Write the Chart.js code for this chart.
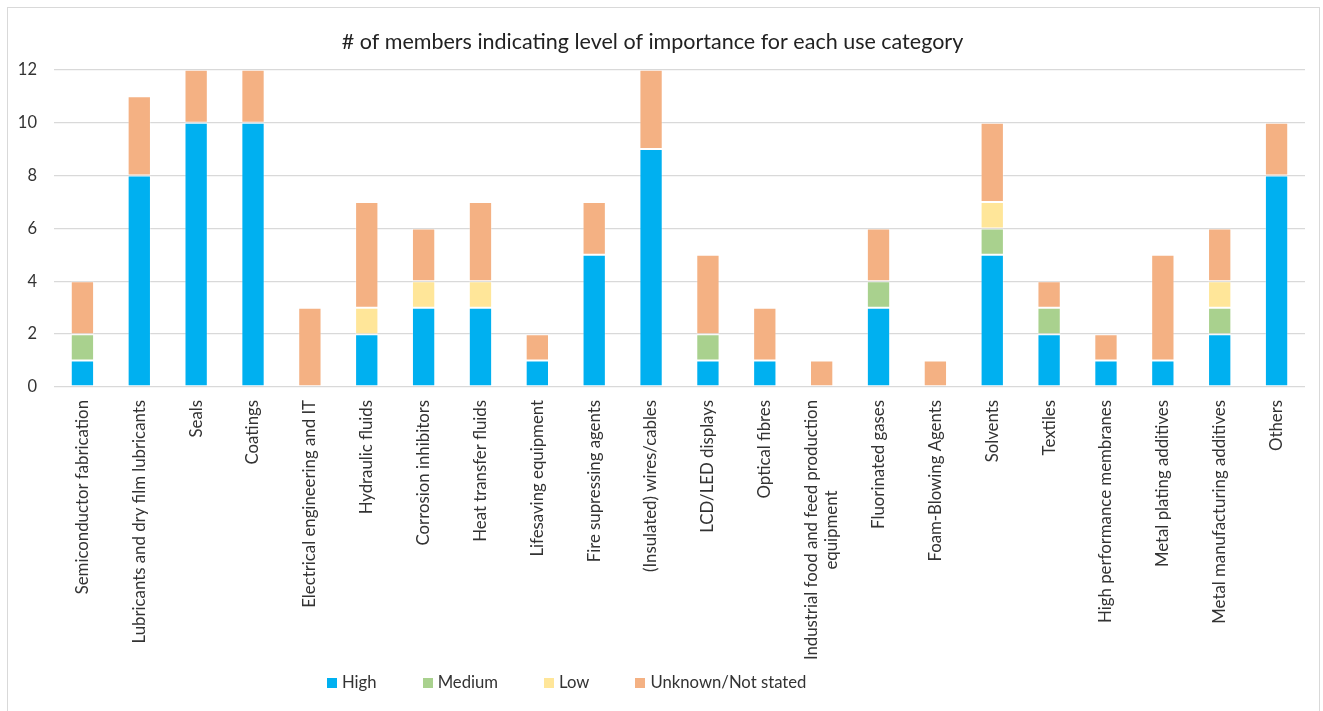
<!DOCTYPE html>
<html>
<head>
<meta charset="utf-8">
<script src="https://cdn.jsdelivr.net/npm/chart.js@4.4.1/dist/chart.umd.min.js"></script>
<style>
  html, body { margin: 0; padding: 0; background: #fff; }
  #wrap { position: relative; width: 1323px; height: 711px; overflow: hidden; }
  #frame { position: absolute; left: 7px; top: 7px; width: 1313px; height: 720px; border: 1px solid #d9d9d9; box-sizing: border-box; }
  #chart { position: absolute; left: 0; top: 0; }
  #legend { position: absolute; top: 672px; left: 327px; font-family: Lato, sans-serif; font-size: 16.7px; color: #333; white-space: nowrap; }
  #legend span.item { display: inline-block; margin-right: 46px; }
  #legend span.box { display: inline-block; width: 10px; height: 10px; margin-right: 5px; }
</style>
</head>
<body>
<div id="wrap">
  <div id="frame"></div>
  <canvas id="chart" width="1323" height="711"></canvas>
  <div id="legend"></div>
</div>
<script>
  const categories = [
    "Semiconductor fabrication",
    "Lubricants and dry film lubricants",
    "Seals",
    "Coatings",
    "Electrical engineering and IT",
    "Hydraulic fluids",
    "Corrosion inhibitors",
    "Heat transfer fluids",
    "Lifesaving equipment",
    "Fire supressing agents",
    "(Insulated) wires/cables",
    "LCD/LED displays",
    "Optical fibres",
    ["Industrial food and feed production", "equipment"],
    "Fluorinated gases",
    "Foam-Blowing Agents",
    "Solvents",
    "Textiles",
    "High performance membranes",
    "Metal plating additives",
    "Metal manufacturing additives",
    "Others"
  ];

  const high    = [1, 8, 10, 10, 0, 2, 3, 3, 1, 5, 9, 1, 1, 0, 3, 0, 5, 2, 1, 1, 2, 8];
  const medium  = [1, 0, 0, 0, 0, 0, 0, 0, 0, 0, 0, 1, 0, 0, 1, 0, 1, 1, 0, 0, 1, 0];
  const low     = [0, 0, 0, 0, 0, 1, 1, 1, 0, 0, 0, 0, 0, 0, 0, 0, 1, 0, 0, 0, 1, 0];
  const unknown = [2, 3, 2, 2, 3, 4, 2, 3, 1, 2, 3, 3, 2, 1, 2, 1, 3, 1, 1, 4, 2, 2];

  const yTicks = [0, 2, 4, 6, 8, 10, 12];

  const seriesNames = ["High", "Medium", "Low", "Unknown/Not stated"];
  const seriesColors = ["#00B0F0", "#A9D18E", "#FFE699", "#F4B183"];
  const seriesValues = [high, medium, low, unknown];

  const font = "Lato, sans-serif";

  const datasets = seriesNames.map((name, i) => ({
    label: name,
    data: seriesValues[i],
    backgroundColor: seriesColors[i],
    borderColor: "rgba(255,255,255,0.3)",
    borderWidth: 1,
    borderSkipped: false,
    categoryPercentage: 1,
    barPercentage: 0.41
  }));

  // center wrapped (multi-line) x labels on their tick, lines centered like Excel
  const centerWrappedLabels = {
    id: "centerWrappedLabels",
    beforeDraw(chart) {
      const ctx = chart.ctx;
      chart.scales.x.getLabelItems().forEach(item => {
        if (!Array.isArray(item.label) || item._centered) return;
        ctx.save();
        ctx.font = item.font.string;
        const w = Math.max(...item.label.map(t => ctx.measureText(t).width));
        ctx.restore();
        item.options.translation[0] -= item.font.lineHeight / 2 * (item.label.length - 1);
        item.options.translation[1] += w / 2;
        item.options.textAlign = "center";
        item._centered = true;
      });
    }
  };

  new Chart(document.getElementById("chart"), {
    type: "bar",
    data: { labels: categories, datasets: datasets },
    plugins: [centerWrappedLabels],
    options: {
      responsive: false,
      animation: false,
      layout: { padding: { left: 0, right: 18, top: 0, bottom: 24 } },
      plugins: {
        legend: { display: false },
        tooltip: { enabled: false },
        title: {
          display: true,
          text: "# of members indicating level of importance for each use category",
          color: "#222",
          font: { family: font, size: 21.5, weight: "normal" },
          padding: { top: 29, bottom: 15 }
        }
      },
      scales: {
        x: {
          stacked: true,
          grid: { display: false },
          border: { display: false },
          ticks: {
            color: "#333",
            font: { family: font, size: 16.8 },
            minRotation: 90,
            maxRotation: 90,
            autoSkip: false,
            padding: 5
          },
          afterFit: (scale) => { scale.height = 300; }
        },
        y: {
          stacked: true,
          min: 0,
          max: 12,
          afterBuildTicks: (scale) => { scale.ticks = yTicks.map(v => ({ value: v })); },
          grid: { color: "#d9d9d9", lineWidth: 1.3, drawTicks: false },
          border: { display: false },
          ticks: {
            color: "#333",
            font: { family: font, size: 16.5 },
            padding: 17
          },
          afterFit: (scale) => { scale.width = 54; }
        }
      }
    }
  });

  const legend = document.getElementById("legend");
  seriesNames.forEach((name, i) => {
    const item = document.createElement("span");
    item.className = "item";
    const box = document.createElement("span");
    box.className = "box";
    box.style.background = seriesColors[i];
    item.appendChild(box);
    item.appendChild(document.createTextNode(name));
    legend.appendChild(item);
  });
</script>
</body>
</html>
